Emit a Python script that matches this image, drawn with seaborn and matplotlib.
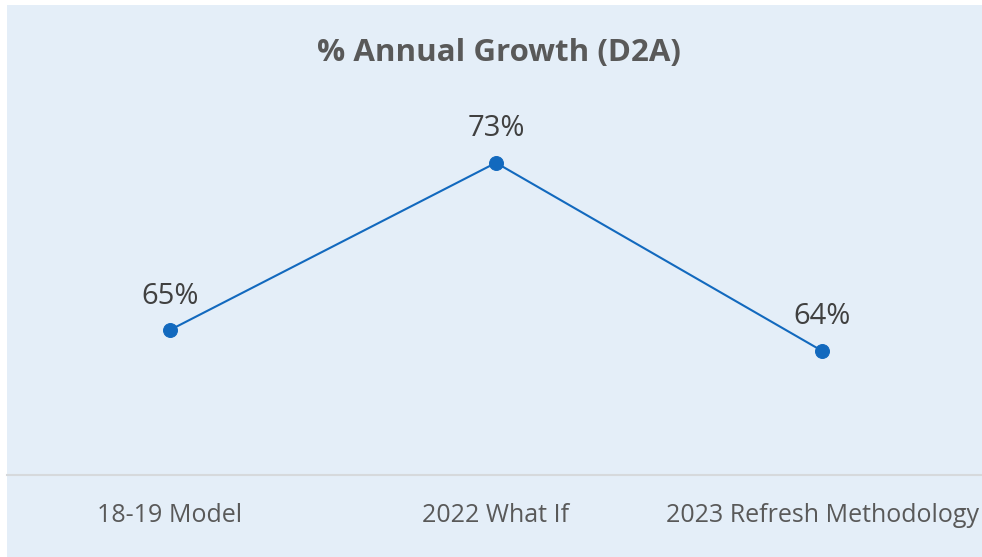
import pandas as pd
import matplotlib
matplotlib.use("Agg")
import matplotlib.pyplot as plt
from matplotlib.patches import Rectangle
import seaborn as sns

# chart data
categories = ["18-19 Model", "2022 What If", "2023 Refresh Methodology"]
growth = [0.65, 0.73, 0.64]
title = "% Annual Growth (D2A)"

BG = "#E4EEF8"
LINE = "#1269BE"
GRAY = "#595959"

sns.set_theme(style="white")
plt.rcParams["font.family"] = ["Open Sans", "DejaVu Sans"]

df = pd.DataFrame({"category": categories, "growth": growth, "x": range(len(categories))})

fig = plt.figure(figsize=(9.82, 5.57), dpi=100)
fig.patch.set_facecolor("white")
fig.patches.append(Rectangle((7 / 982, 0), 1, (557 - 5) / 557, transform=fig.transFigure,
                             facecolor=BG, edgecolor="none", zorder=-1))

ax = fig.add_axes([7 / 982, (557 - 475) / 557, 978 / 982, 470 / 557])
ax.set_facecolor("none")
ax.set_zorder(1)

sns.lineplot(data=df, x="x", y="growth", ax=ax, sort=False, color=LINE, linewidth=1.5,
             marker="o", markersize=10, markeredgecolor=LINE, markerfacecolor=LINE)

# value labels above each point
for xi, v in zip(df["x"], df["growth"]):
    ax.annotate(f"{v:.0%}", (xi, v), xytext=(0, 19), textcoords="offset points",
                ha="center", va="baseline", fontsize=21, color="#404040")

ax.set_xlim(-0.5, 2.5)
ax.set_ylim(0.5806, 0.8055)
ax.set_xticks(df["x"])
ax.set_xticklabels(categories, fontsize=18, color=GRAY)
ax.tick_params(axis="x", length=0, pad=20.5)
ax.set_yticks([])
ax.set_xlabel("")
ax.set_ylabel("")
for side in ["top", "left", "right"]:
    ax.spines[side].set_visible(False)
ax.spines["bottom"].set_color("#D6D9DC")
ax.spines["bottom"].set_linewidth(1.5)

fig.text(0.508, 0.905, title, ha="center", va="center", fontsize=22.5,
         fontweight="bold", color=GRAY, zorder=2)

fig.savefig("out.png", dpi=100)
